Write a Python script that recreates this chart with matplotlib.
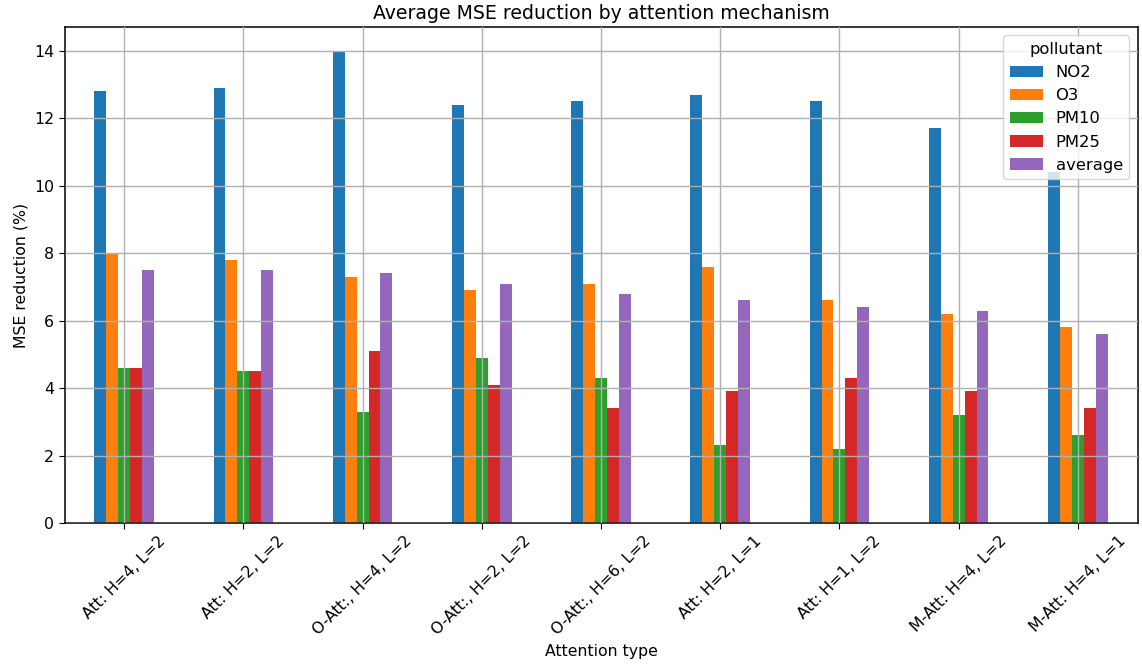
import matplotlib
matplotlib.use("Agg")
import matplotlib.pyplot as plt
import pandas as pd

categories = ["Att: H=4, L=2", "Att: H=2, L=2", "O-Att:, H=4, L=2", "O-Att:, H=2, L=2",
              "O-Att:, H=6, L=2", "Att: H=2, L=1", "Att: H=1, L=2", "M-Att: H=4, L=2",
              "M-Att: H=4, L=1"]
no2 = [12.8, 12.9, 14.0, 12.4, 12.5, 12.7, 12.5, 11.7, 10.4]
o3 = [8.0, 7.8, 7.3, 6.9, 7.1, 7.6, 6.6, 6.2, 5.8]
pm10 = [4.6, 4.5, 3.3, 4.9, 4.3, 2.3, 2.2, 3.2, 2.6]
pm25 = [4.6, 4.5, 5.1, 4.1, 3.4, 3.9, 4.3, 3.9, 3.4]
average = [7.5, 7.5, 7.4, 7.1, 6.8, 6.6, 6.4, 6.3, 5.6]

plt.rcParams["font.size"] = 11.3
plt.rcParams["axes.linewidth"] = 1.1
plt.rcParams["xtick.major.size"] = 4
plt.rcParams["ytick.major.size"] = 4

df = pd.DataFrame({"NO2": no2, "O3": o3, "PM10": pm10, "PM25": pm25, "average": average},
                  index=pd.Index(categories, name="Attention type"))
df.columns.name = "pollutant"

fig, ax = plt.subplots(figsize=(11.42, 6.68), dpi=100)
df.plot.bar(ax=ax)
ax.grid(True, linewidth=1.0)
ax.set_axisbelow(False)
ax.set_title("Average MSE reduction by attention mechanism", fontsize=13.6)
ax.set_ylabel("MSE reduction (%)")
ax.set_xlabel("Attention type")
plt.setp(ax.get_xticklabels(), rotation=45)
ax.legend(title="pollutant", loc="upper right", fontsize=11.75, title_fontsize=11.75)
fig.subplots_adjust(left=64.5/1142, right=1137.5/1142, top=1-27.3/668, bottom=1-523/668)
fig.savefig("out.png", dpi=100)
